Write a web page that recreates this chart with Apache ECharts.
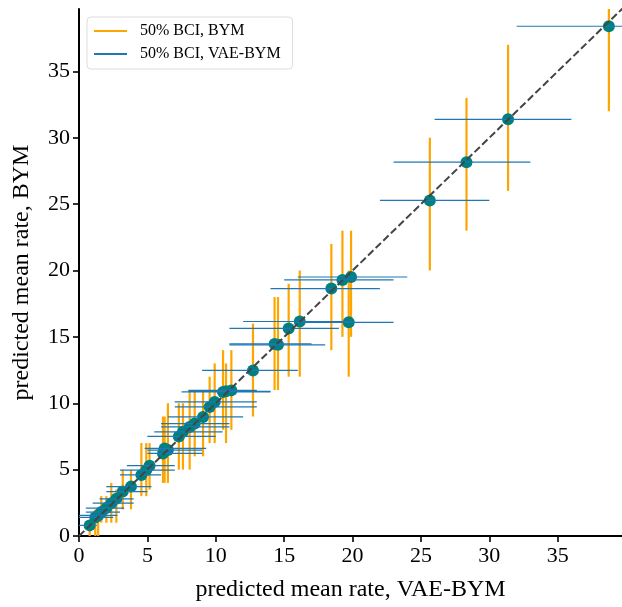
<!DOCTYPE html>
<html><head><meta charset="utf-8">
<script src="https://cdn.jsdelivr.net/npm/echarts@6/dist/echarts.min.js"></script>
<style>html,body{margin:0;padding:0;background:#fff}#c{width:622px;height:607px}</style>
</head><body><div id="c"></div>
<script>
const vaeMean = [0.78,1.19,1.40,1.63,2.00,2.36,2.73,3.20,3.80,4.56,4.92,5.16,6.14,6.26,6.50,7.30,7.60,8.09,8.46,9.07,9.55,9.92,10.53,10.75,11.14,12.72,14.30,14.55,15.33,16.14,18.45,19.26,19.89,19.72,25.65,28.33,31.37,38.74];
const bymMean = [0.80,1.40,1.55,1.80,2.10,2.47,2.80,3.35,3.72,4.60,4.97,5.30,6.22,6.60,6.47,7.50,7.85,8.22,8.47,8.97,9.72,10.10,10.85,10.90,10.97,12.47,14.47,14.40,15.64,16.16,18.64,19.29,19.51,16.10,25.28,28.16,31.39,38.40];
const bymLo = [0,0,0,1,1,1,1,2,2,3,3,3.5,4,4,4,5,5,5,6,6,7,7,8,7,8,9,11,11,12,12,14,15,15,12,20,23,26,32];
const bymHi = [1.2,2,2,3,3,4,3.5,5,5,7,7,7,9,9,10,10,10,11,11,11,12,13,14,13,14,16,18,18,19,20,22,23,23,20,30,33,37,41];
const vaeLo = [0,0,0,0.5,0.5,1,1.5,2,2,3,3,3.5,5,4.8,5,5,5.5,6,6,6.5,7,7,7.5,8,8,9,11,11,11,12,14,15,16,16,22,23,26,32];
const vaeHi = [1.3,2.5,2.8,3,3.3,4,4,5,5.3,6,7,7,9,9.3,9,10,10.5,11,11,12,13,13,14,14,13,16,17,18,19,20,22,23,24,23,30,33,36,42];
const ticks = [0, 5, 10, 15, 20, 25, 30, 35];
const diag = [0, 42];
const legendNames = ['50% BCI, BYM', '50% BCI, VAE-BYM'];
const xName = 'predicted mean rate, VAE-BYM';
const yName = 'predicted mean rate, BYM';

const FONT = "'Liberation Serif', 'DejaVu Serif', serif";
const chart = echarts.init(document.getElementById('c'), null, {renderer: 'canvas'});

const bymBars = vaeMean.map((x, i) => [x, bymLo[i], bymHi[i]]);
const vaeBars = bymMean.map((y, i) => [vaeLo[i], vaeHi[i], y]);
const pts = vaeMean.map((x, i) => [x, bymMean[i]]);

function axisCfg(name, gap) {
  return {
    type: 'value', min: 0, max: 39.7, interval: 5,
    splitLine: {show: false},
    axisLine: {show: true, onZero: false, lineStyle: {color: '#000', width: 2}},
    axisTick: {show: true, length: 6, customValues: ticks, lineStyle: {color: '#000', width: 1.6}},
    axisLabel: {color: '#000', fontFamily: FONT, fontSize: 22, margin: 9, customValues: ticks},
    name: name, nameGap: gap, nameLocation: 'middle',
    nameTextStyle: {color: '#000', fontFamily: FONT, fontSize: 24}
  };
}

chart.setOption({
  animation: false,
  grid: {left: 79, right: 0, top: 9, bottom: 69, containLabel: false},
  xAxis: [
    axisCfg(xName, 42),
    {type: 'value', min: 0, max: 39.7, position: 'top', axisLine: {show: true, lineStyle: {color: '#000', width: 2}},
     axisTick: {show: false}, axisLabel: {show: false}, splitLine: {show: false}}
  ],
  yAxis: axisCfg(yName, 45),
  legend: {
    orient: 'vertical', left: 87, top: 17,
    data: [{name: legendNames[0], icon: 'rect'}, {name: legendNames[1], icon: 'rect'}],
    itemWidth: 33, itemHeight: 2, itemGap: 7,
    padding: [6, 12, 7, 7],
    borderColor: '#dcdcdc', borderWidth: 1, borderRadius: 4, backgroundColor: '#fff',
    textStyle: {fontFamily: FONT, fontSize: 16, color: '#000', lineHeight: 16, padding: [0, 0, 0, 8]}
  },
  series: [
    {
      name: legendNames[0], type: 'custom', z: 2, color: '#FFA500',
      data: bymBars, encode: {x: 0, y: [1, 2]},
      renderItem: (params, api) => {
        const a = api.coord([api.value(0), api.value(1)]);
        const b = api.coord([api.value(0), api.value(2)]);
        return {type: 'line', shape: {x1: a[0], y1: a[1], x2: b[0], y2: b[1]},
          style: {stroke: '#FFA500', lineWidth: 2.2}};
      },
      clip: true
    },
    {
      name: 'points', type: 'scatter', z: 3, data: pts, symbol: 'circle', symbolSize: 12,
      itemStyle: {color: '#008080', opacity: 1}, silent: true
    },
    {
      name: legendNames[1], type: 'custom', z: 4, color: '#1f77b4',
      data: vaeBars, encode: {x: [0, 1], y: 2},
      renderItem: (params, api) => {
        const a = api.coord([api.value(0), api.value(2)]);
        const b = api.coord([api.value(1), api.value(2)]);
        return {type: 'line', shape: {x1: a[0], y1: a[1], x2: b[0], y2: b[1]},
          style: {stroke: '#1f77b4', lineWidth: 1.2}};
      },
      clip: true
    },
    {
      name: 'diag', type: 'line', z: 5, data: diag.map(v => [v, v]), symbol: 'none',
      lineStyle: {color: '#444', width: 2, type: [7.4, 3.2]}, clip: true, silent: true
    }
  ]
});
</script></body></html>
